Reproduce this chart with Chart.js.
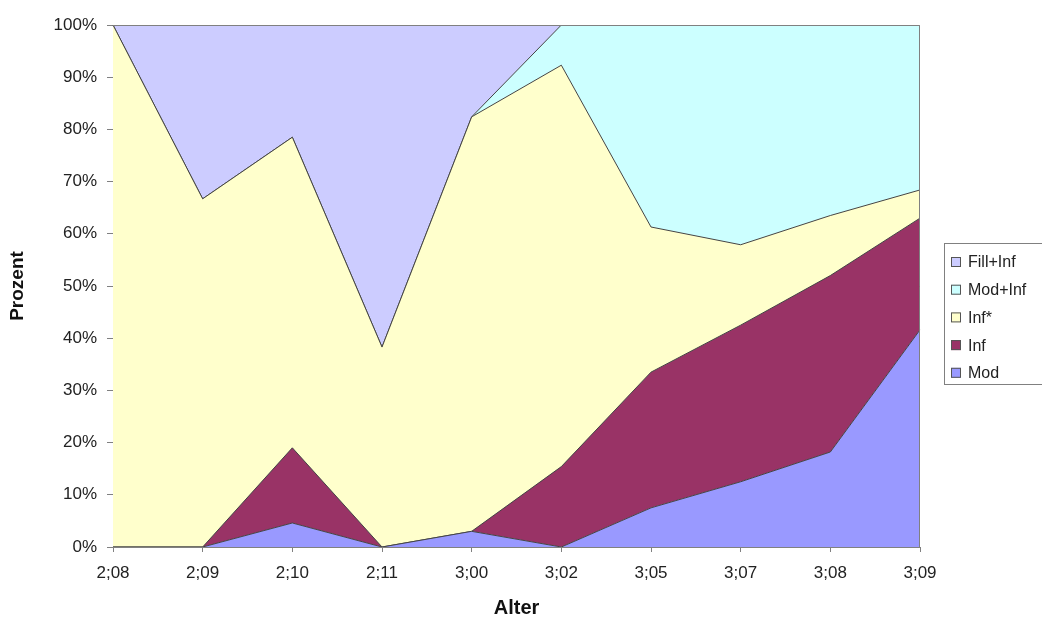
<!DOCTYPE html>
<html>
<head>
<meta charset="utf-8">
<script src="https://cdn.jsdelivr.net/npm/chart.js@4"></script>
<style>
  html, body { margin: 0; padding: 0; background: #fff; }
  #wrap { width: 1042px; height: 618px; position: relative; }
</style>
</head>
<body>
<div id="wrap"><canvas id="chart"></canvas></div>
<script>
// Alter (Jahre;Monate) und Anteile in Prozent
const alter = ['2;08', '2;09', '2;10', '2;11', '3;00', '3;02', '3;05', '3;07', '3;08', '3;09']
const yTicks = [0, 10, 20, 30, 40, 50, 60, 70, 80, 90, 100]

const mod = [0, 0, 4.6, 0, 3, 0, 7.5, 12.5, 18.2, 41.6]
const inf = [0, 0, 14.4, 0, 0, 15.4, 26, 30, 33.8, 21.4]
const infStern = [100, 66.7, 59.5, 38.3, 79.4, 76.9, 27.8, 15.4, 11.5, 5.4]
const modInf = [0, 0, 0, 0, 0, 7.7, 38.7, 42.1, 36.5, 31.6]
const fillInf = [0, 33.3, 21.5, 61.7, 17.6, 0, 0, 0, 0, 0]

const grau = '#808080'
const schrift = 'Liberation Sans, Arial, sans-serif'

const serie = (label, data, farbe, fill) => ({
  label,
  data,
  backgroundColor: farbe,
  borderColor: '#444',
  borderWidth: 1,
  pointRadius: 0,
  tension: 0,
  fill,
})

// Rahmen oben/rechts um die Zeichenfläche
const rahmen = {
  id: 'rahmen',
  afterDatasetsDraw(chart) {
    const { ctx, chartArea: a } = chart
    ctx.save()
    ctx.strokeStyle = grau
    ctx.lineWidth = 1
    ctx.beginPath()
    ctx.moveTo(a.left, a.top + 0.5)
    ctx.lineTo(a.right - 0.5, a.top + 0.5)
    ctx.lineTo(a.right - 0.5, a.bottom)
    ctx.stroke()
    ctx.restore()
  },
}

// Legende im Excel-Stil, umgekehrte Reihenfolge
const legende = {
  id: 'legende',
  afterDraw(chart) {
    const { ctx } = chart
    const links = chart.chartArea.right + 24
    const oben = 243
    const abstand = 27.7
    const sets = chart.data.datasets.slice().reverse()
    ctx.save()
    ctx.strokeStyle = grau
    ctx.lineWidth = 1
    ctx.strokeRect(links + 0.5, oben + 0.5, 110, 141)
    ctx.font = '16px ' + schrift
    ctx.textBaseline = 'middle'
    ctx.fillStyle = '#222'
    sets.forEach((ds, i) => {
      const y = oben + 19 + i * abstand
      ctx.fillStyle = ds.backgroundColor
      ctx.fillRect(links + 7, y - 5, 10, 10)
      ctx.strokeStyle = '#555'
      ctx.strokeRect(links + 7.5, y - 4.5, 9, 9)
      ctx.fillStyle = '#222'
      ctx.fillText(ds.label, links + 24, y + 1)
    })
    ctx.restore()
  },
}

new Chart(document.getElementById('chart'), {
  type: 'line',
  data: {
    labels: alter,
    datasets: [
      serie('Mod', mod, '#9999FF', 'origin'),
      serie('Inf', inf, '#993366', '-1'),
      serie('Inf*', infStern, '#FFFFCC', '-1'),
      serie('Mod+Inf', modInf, '#CCFFFF', '-1'),
      serie('Fill+Inf', fillInf, '#CCCCFF', '-1'),
    ],
  },
  options: {
    responsive: true,
    maintainAspectRatio: false,
    animation: false,
    layout: { padding: { top: 25, right: 122, left: 0, bottom: 0 } },
    plugins: {
      legend: { display: false },
      tooltip: { enabled: false },
    },
    scales: {
      x: {
        offset: false,
        afterFit(scale) { scale.height = 71 },
        grid: { drawOnChartArea: false, tickLength: 5, color: grau },
        border: { color: grau },
        ticks: {
          autoSkip: false,
          maxRotation: 0,
          padding: 11,
          color: '#222',
          font: { family: schrift, size: 17 },
        },
        title: {
          display: true,
          text: 'Alter',
          color: '#111',
          padding: 0,
          font: { family: schrift, size: 20, weight: 'bold', lineHeight: 1 },
        },
      },
      y: {
        stacked: true,
        min: 0,
        max: 100,
        afterFit(scale) { scale.width = 113 },
        afterBuildTicks(scale) { scale.ticks = yTicks.map((v) => ({ value: v })) },
        grid: { drawOnChartArea: false, tickLength: 6, color: grau },
        border: { color: grau },
        ticks: {
          padding: 10,
          color: '#222',
          font: { family: schrift, size: 17 },
          callback: (v) => `${v}%`,
        },
        title: {
          display: true,
          text: 'Prozent',
          color: '#111',
          padding: { top: 8 },
          font: { family: schrift, size: 19, weight: 'bold', lineHeight: 1 },
        },
      },
    },
  },
  plugins: [rahmen, legende],
})
</script>
</body>
</html>
